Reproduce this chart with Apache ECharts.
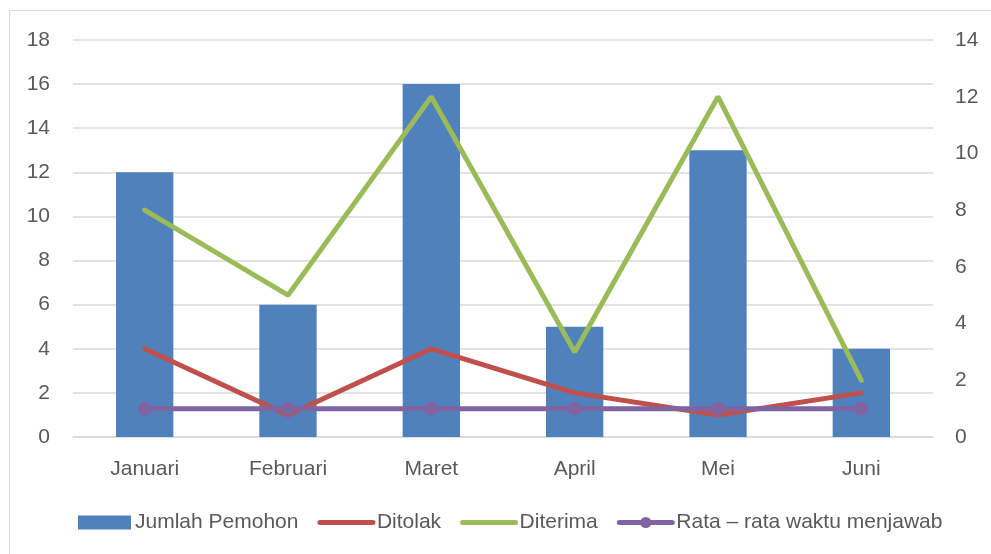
<!DOCTYPE html>
<html>
<head>
<meta charset="utf-8">
<script src="https://cdn.jsdelivr.net/npm/echarts@6/dist/echarts.min.js"></script>
<style>
  html, body { margin: 0; padding: 0; background: #fff; }
  #chart { width: 991px; height: 554px; }
  .frame { position: absolute; left: 9px; top: 10px; width: 1000px; height: 600px; border: 1px solid #d9d9d9; pointer-events: none; }
</style>
</head>
<body>
<div id="chart"></div>
<div class="frame"></div>
<script>
const months = ["Januari", "Februari", "Maret", "April", "Mei", "Juni"];
const jumlahPemohon = [12, 6, 16, 5, 13, 4];
const ditolak = [4, 1, 4, 2, 1, 2];
const diterima = [8, 5, 12, 3, 12, 2];
const rataWaktu = [1, 1, 1, 1, 1, 1];

const font = "Liberation Sans";
const textColor = "#595959";
const fontSize = 21;

var chartDom = document.getElementById("chart");
var myChart = echarts.init(chartDom);

// line-only legend entries: hide the circle the legend adds by default
const noDot = { color: "transparent", borderWidth: 0 };

const option = {
  animation: false,
  textStyle: { fontFamily: font, color: textColor },
  grid: { left: 73, right: 58, top: 40, bottom: 117, containLabel: false },
  legend: {
    top: 507,
    left: 73,
    itemWidth: 53,
    itemHeight: 14,
    itemGap: 19,
    lineStyle: { width: 5, cap: "round" },
    textStyle: { fontSize: fontSize, color: textColor, fontFamily: font, padding: [0, 0, 0, -1] },
    data: [
      { name: "Jumlah Pemohon", icon: "rect" },
      { name: "Ditolak", itemStyle: noDot },
      { name: "Diterima", itemStyle: noDot },
      { name: "Rata – rata waktu menjawab" },
    ],
  },
  xAxis: {
    type: "category",
    data: months,
    axisLine: { show: true, lineStyle: { color: "#d9d9d9", width: 1.5 } },
    axisTick: { show: false },
    axisLabel: { color: textColor, fontSize: fontSize, margin: 22 },
  },
  yAxis: [
    {
      type: "value",
      min: 0,
      max: 18,
      interval: 2,
      axisLine: { show: false },
      axisTick: { show: false },
      axisLabel: { color: textColor, fontSize: fontSize, margin: 23 },
      splitLine: { lineStyle: { color: "#d9d9d9", width: 1.5 } },
    },
    {
      type: "value",
      min: 0,
      max: 14,
      interval: 2,
      axisLine: { show: false },
      axisTick: { show: false },
      axisLabel: { color: textColor, fontSize: fontSize, margin: 22 },
      splitLine: { show: false },
    },
  ],
  series: [
    {
      name: "Jumlah Pemohon",
      type: "bar",
      yAxisIndex: 0,
      barWidth: "40%",
      data: jumlahPemohon,
      itemStyle: { color: "#4F81BD" },
    },
    {
      name: "Ditolak",
      type: "line",
      yAxisIndex: 0,
      data: ditolak,
      symbol: "none",
      lineStyle: { color: "#C0504D", width: 5, cap: "round" },
      itemStyle: { color: "#C0504D" },
    },
    {
      name: "Diterima",
      type: "line",
      yAxisIndex: 1,
      data: diterima,
      symbol: "none",
      lineStyle: { color: "#9BBB59", width: 5, cap: "round" },
      itemStyle: { color: "#9BBB59" },
    },
    {
      name: "Rata – rata waktu menjawab",
      type: "line",
      yAxisIndex: 1,
      data: rataWaktu,
      symbol: "circle",
      symbolSize: 14,
      lineStyle: { color: "#8064A2", width: 5 },
      itemStyle: { color: "#8064A2" },
    },
  ],
};

option && myChart.setOption(option);
</script>
</body>
</html>
